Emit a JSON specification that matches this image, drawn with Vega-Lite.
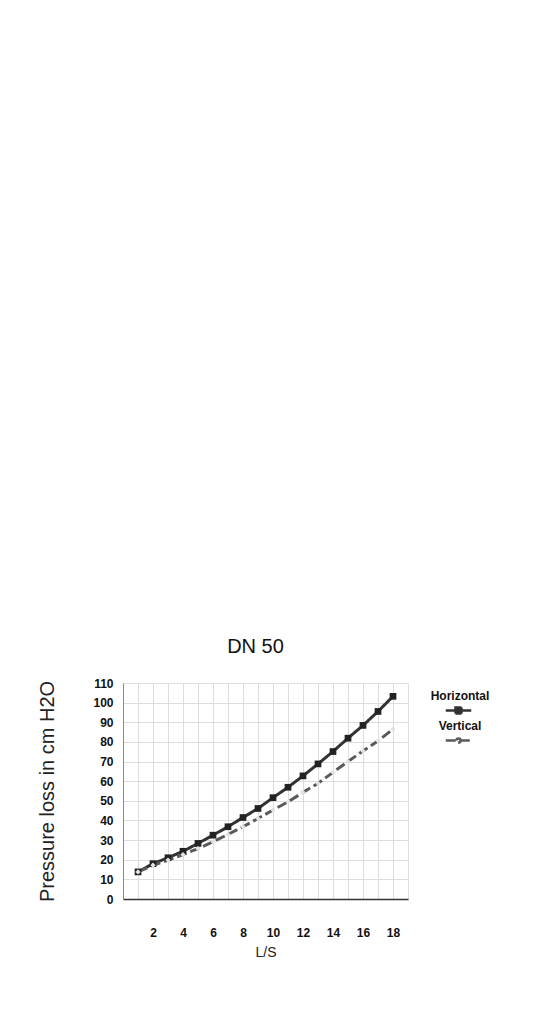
{
  "$schema": "https://vega.github.io/schema/vega-lite/v6.json",
  "width": 285,
  "height": 216,
  "padding": {"left": 37, "top": 637, "right": 0, "bottom": 0},
  "title": {"text": "DN 50", "fontSize": 20, "fontWeight": "normal", "font": "Liberation Sans", "color": "#111", "offset": 20, "dx": -10},
  "config": {
    "view": {"stroke": null},
    "font": "Liberation Sans"
  },
  "data": {"values": [
    {"ls": 1, "p": 13.8, "series": "Horizontal"},
    {"ls": 2, "p": 18.0, "series": "Horizontal"},
    {"ls": 3, "p": 21.0, "series": "Horizontal"},
    {"ls": 4, "p": 24.3, "series": "Horizontal"},
    {"ls": 5, "p": 28.3, "series": "Horizontal"},
    {"ls": 6, "p": 32.5, "series": "Horizontal"},
    {"ls": 7, "p": 36.8, "series": "Horizontal"},
    {"ls": 8, "p": 41.5, "series": "Horizontal"},
    {"ls": 9, "p": 46.1, "series": "Horizontal"},
    {"ls": 10, "p": 51.6, "series": "Horizontal"},
    {"ls": 11, "p": 56.9, "series": "Horizontal"},
    {"ls": 12, "p": 62.7, "series": "Horizontal"},
    {"ls": 13, "p": 68.8, "series": "Horizontal"},
    {"ls": 14, "p": 75.1, "series": "Horizontal"},
    {"ls": 15, "p": 81.9, "series": "Horizontal"},
    {"ls": 16, "p": 88.4, "series": "Horizontal"},
    {"ls": 17, "p": 95.5, "series": "Horizontal"},
    {"ls": 18, "p": 103.2, "series": "Horizontal"},
    {"ls": 1, "p": 13.8, "series": "Vertical"},
    {"ls": 2, "p": 17.2, "series": "Vertical"},
    {"ls": 3, "p": 19.8, "series": "Vertical"},
    {"ls": 4, "p": 22.6, "series": "Vertical"},
    {"ls": 5, "p": 25.7, "series": "Vertical"},
    {"ls": 6, "p": 29.1, "series": "Vertical"},
    {"ls": 7, "p": 32.9, "series": "Vertical"},
    {"ls": 8, "p": 36.8, "series": "Vertical"},
    {"ls": 9, "p": 41.0, "series": "Vertical"},
    {"ls": 10, "p": 45.3, "series": "Vertical"},
    {"ls": 11, "p": 49.5, "series": "Vertical"},
    {"ls": 12, "p": 54.3, "series": "Vertical"},
    {"ls": 13, "p": 58.9, "series": "Vertical"},
    {"ls": 14, "p": 64.5, "series": "Vertical"},
    {"ls": 15, "p": 70.0, "series": "Vertical"},
    {"ls": 16, "p": 75.4, "series": "Vertical"},
    {"ls": 17, "p": 80.5, "series": "Vertical"},
    {"ls": 18, "p": 86.5, "series": "Vertical"}
  ]},
  "encoding": {
    "x": {
      "field": "ls", "type": "quantitative",
      "scale": {"domain": [0, 19], "nice": false, "zero": false},
      "axis": {
        "title": "L/S", "titleFontSize": 14, "titleFontWeight": "normal", "titleColor": "#222", "titlePadding": 7,
        "values": [0,1,2,3,4,5,6,7,8,9,10,11,12,13,14,15,16,17,18,19],
        "labelExpr": "datum.value % 2 == 0 && datum.value > 0 && datum.value < 19 ? datum.label : ''",
        "labelFontWeight": "bold", "labelFontSize": 12, "labelColor": "#111", "labelPadding": 28,
        "ticks": false, "grid": true, "gridColor": "#dddddd", "gridWidth": 1,
        "domainColor": "#333", "domainWidth": 1.5
      }
    },
    "y": {
      "field": "p", "type": "quantitative",
      "scale": {"domain": [0, 110], "nice": false},
      "axis": {
        "title": "Pressure loss in cm H2O", "titleFontSize": 20, "titleFontWeight": "normal", "titleColor": "#222", "titlePadding": 35,
        "values": [0,10,20,30,40,50,60,70,80,90,100,110],
        "labelFontWeight": "bold", "labelFontSize": 12, "labelColor": "#111", "labelPadding": 10,
        "ticks": false, "grid": true, "gridColor": "#dddddd", "gridWidth": 1,
        "domainColor": "#888", "domainWidth": 1
      }
    }
  },
  "layer": [
    {
      "mark": {"type": "line", "strokeWidth": 3},
      "encoding": {
        "color": {"field": "series", "type": "nominal", "scale": {"domain": ["Horizontal", "Vertical"], "range": ["#333333", "#5a5a5a"]}, "legend": {
          "title": null, "orient": "right", "offset": 23, "padding": 11,
          "labelFontWeight": "bold", "labelFontSize": 12, "labelColor": "#111", "labelAlign": "center", "labelBaseline": "middle", "labelOffset": -15,
          "symbolType": "M-0.85,0H0.85M-0.2,-0.2H0.2V0.2H-0.2Z",
          "symbolSize": 900, "symbolStrokeWidth": 2.5, "rowPadding": 0,
          "encode": {
            "labels": {"update": {"dy": {"value": -15}}},
            "symbols": {"update": {
              "shape": {"signal": "datum.value === 'Horizontal' ? 'M-0.85,0H0.85M-0.2,-0.2H0.2V0.2H-0.2Z' : 'M-0.85,0H0.85M-0.14,0A0.14,0.14,0,1,1,0.14,0A0.14,0.14,0,1,1,-0.14,0Z'"},
              "fill": {"signal": "datum.value === 'Horizontal' ? '#222222' : '#e2e2e2'"},
              "strokeDash": {"value": []}
            }}
          }
        }},
        "strokeDash": {"field": "series", "type": "nominal", "scale": {"domain": ["Horizontal", "Vertical"], "range": [[1, 0], [10, 4]]}, "legend": null}
      }
    },
    {
      "transform": [{"filter": "datum.series === 'Horizontal'"}],
      "mark": {"type": "point", "filled": true, "opacity": 1, "shape": "square", "size": 45, "color": "#222222"}
    },
    {
      "transform": [{"filter": "datum.series === 'Vertical'"}],
      "mark": {"type": "point", "filled": true, "opacity": 1, "shape": "diamond", "size": 28, "color": "#e2e2e2"}
    }
  ]
}
